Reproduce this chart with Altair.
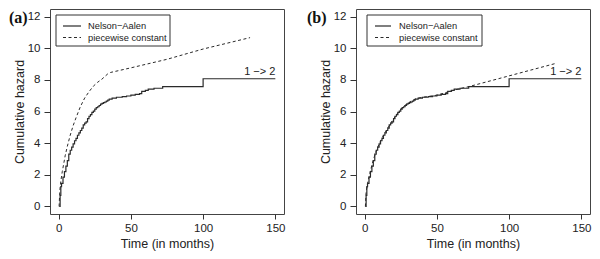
import altair as alt
import pandas as pd

# ---- data ----
na_time = [0.4, 1.0, 1.5, 2, 3, 4, 5, 6, 7, 8, 9, 10, 11, 12, 13, 14, 15, 16, 17, 18,
           19, 20, 21, 22, 23, 24, 25, 26, 27, 28, 29, 30, 31, 32, 33, 34, 35, 37, 40,
           44, 47, 50, 53, 56, 57.5, 60, 62, 66, 72, 100, 150]
na_hazard = [0.0, 0.7, 1.25, 1.45, 1.85, 2.2, 2.55, 2.9, 3.3, 3.55, 3.75, 3.95, 4.15, 4.3,
             4.5, 4.65, 4.8, 4.95, 5.15, 5.26, 5.35, 5.55, 5.7, 5.8, 5.95, 6.02, 6.15, 6.25,
             6.3, 6.38, 6.46, 6.52, 6.56, 6.6, 6.65, 6.72, 6.78, 6.85, 6.9, 6.94, 6.98, 7.03,
             7.08, 7.13, 7.27, 7.33, 7.42, 7.47, 7.57, 8.07, 8.07]

pc_a_time = [0.3, 0.8, 1.5, 2.5, 4.5, 6, 8, 10, 12, 15, 18, 21, 24, 27, 30, 34, 36, 50, 75, 100, 132.5]
pc_a_hazard = [0.0, 1.0, 1.6, 2.2, 3.2, 3.8, 4.5, 5.1, 5.6, 6.3, 6.85, 7.25, 7.6, 7.85, 8.05, 8.38,
               8.47, 8.76, 9.3, 9.95, 10.67]

pc_b_time = [0.5, 1, 2, 4, 6, 8, 10, 13, 16, 19, 22, 25, 28, 32, 36, 40, 50, 60, 66, 72, 132.7]
pc_b_hazard = [0.0, 0.9, 1.45, 2.25, 2.95, 3.5, 3.95, 4.5, 4.95, 5.4, 5.8, 6.15, 6.4, 6.65, 6.82,
               6.9, 7.03, 7.3, 7.45, 7.57, 9.05]

x_ticks = [0, 50, 100, 150]
y_ticks = [0, 2, 4, 6, 8, 10, 12]
legend_labels = ["Nelson\u2212Aalen", "piecewise constant"]
panel_labels = ["(a)", "(b)"]
transition_label = ["1 \u2212> 2"]
transition_x = [150]
transition_y = [8.07]

# ---- styling / layout ----
W, H = 234, 205
INK = "#222222"
FONT = "Liberation Sans"

x_scale = alt.Scale(domain=[-6, 156], nice=False, zero=False)
y_scale = alt.Scale(domain=[-0.48, 12.48], nice=False, zero=False)
x_axis = alt.Axis(values=x_ticks, title="Time (in months)", tickSize=5,
                  labelPadding=3, titlePadding=4, labelFlush=False,
                  labelOverlap=False, format="d")
y_axis = alt.Axis(values=y_ticks, title="Cumulative hazard", tickSize=6,
                  labelPadding=4, titleX=-23.5, titleY=H / 2,
                  labelOverlap=False, format="d")


def xy():
    return dict(x=alt.X("t:Q", scale=x_scale, axis=x_axis),
                y=alt.Y("h:Q", scale=y_scale, axis=y_axis))


def panel(pc_time, pc_hazard, label, label_dx, leg_box, leg_line, leg_text_x):
    na_df = pd.DataFrame({"t": na_time, "h": na_hazard})
    pc_df = pd.DataFrame({"t": pc_time, "h": pc_hazard})
    lab_df = pd.DataFrame({"t": transition_x, "h": transition_y, "txt": transition_label})
    one = pd.DataFrame({"k": [0]})

    na = alt.Chart(na_df).mark_line(interpolate="step-after", color="#2a2a2a",
                                    strokeWidth=1.2).encode(**xy())
    pc = alt.Chart(pc_df).mark_line(color="#2a2a2a", strokeWidth=1,
                                    strokeDash=[3, 2.5]).encode(**xy())
    trans = alt.Chart(lab_df).mark_text(align="right", baseline="bottom", dy=-2,
                                        font=FONT, fontSize=11, color=INK).encode(
        text="txt:N", **xy())

    box = alt.Chart(one).mark_rect(fill="white", stroke="#333333", strokeWidth=1).encode(
        x=alt.value(leg_box[0]), x2=alt.value(leg_box[1]),
        y=alt.value(leg_box[2]), y2=alt.value(leg_box[3]))
    rows = [17, 28.5]
    layers = [na, pc, trans, box]
    for i, lab in enumerate(legend_labels):
        rule_kw = dict(color="#2a2a2a", strokeWidth=1.2 if i == 0 else 1)
        if i == 1:
            rule_kw["strokeDash"] = [3, 2.5]
        layers.append(alt.Chart(one).mark_rule(**rule_kw).encode(
            x=alt.value(leg_line[0]), x2=alt.value(leg_line[1]), y=alt.value(rows[i])))
        layers.append(alt.Chart(one).mark_text(
            text=lab, align="left", baseline="middle", font=FONT, fontSize=9.3,
            color=INK).encode(x=alt.value(leg_text_x), y=alt.value(rows[i])))
    layers.append(alt.Chart(one).mark_text(
        text=label, align="left", baseline="alphabetic", font="Liberation Serif",
        fontSize=16, fontWeight="bold", color="#111111").encode(
        x=alt.value(label_dx), y=alt.value(13.5)))
    return alt.layer(*layers).properties(width=W, height=H)


left = panel(pc_a_time, pc_a_hazard, panel_labels[0], -41, (6, 120, 6, 37), (13, 31), 38)
right = panel(pc_b_time, pc_b_hazard, panel_labels[1], -49, (11, 126, 6, 37), (19, 35), 43)

chart = alt.hconcat(left, right, spacing=72, bounds="flush").properties(
    padding=0
).configure_view(
    stroke="#444444", strokeWidth=1
).configure_axis(
    domain=False, grid=False, tickColor="#333333", tickWidth=1,
    labelFont=FONT, labelFontSize=11.5, labelColor=INK,
    titleFont=FONT, titleFontSize=12.5, titleFontWeight="normal", titleColor=INK
)

chart.save("out.html", embed_options={"renderer": "svg", "actions": False})
